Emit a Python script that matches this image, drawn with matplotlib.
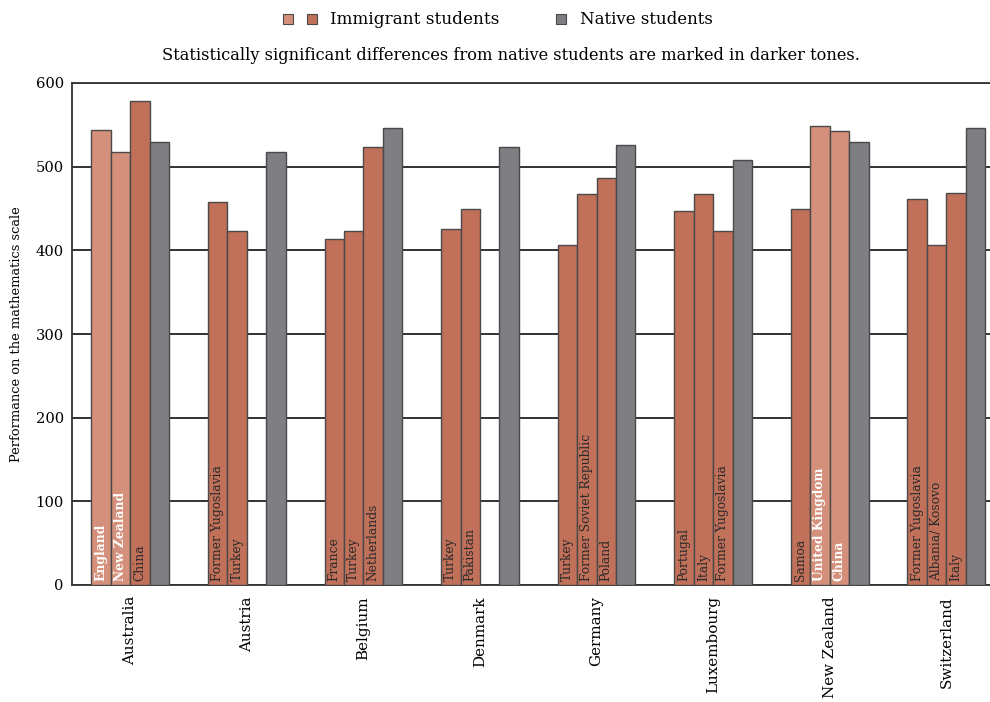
import numpy as np
import matplotlib
matplotlib.use("Agg")
import matplotlib.pyplot as plt
from matplotlib.patches import Rectangle

plt.rcParams['font.family'] = ['DejaVu Serif']

# Data
countries = ["Australia", "Austria", "Belgium", "Denmark", "Germany",
             "Luxembourg", "New Zealand", "Switzerland"]
origin_labels = [
    ["England", "New Zealand", "China"],
    ["Former Yugoslavia", "Turkey"],
    ["France", "Turkey", "Netherlands"],
    ["Turkey", "Pakistan"],
    ["Turkey", "Former Soviet Republic", "Poland"],
    ["Portugal", "Italy", "Former Yugoslavia"],
    ["Samoa", "United Kingdom", "China"],
    ["Former Yugoslavia", "Albania/ Kosovo", "Italy"],
]
immigrant_scores = [
    [544, 517, 579],
    [458, 423],
    [414, 423, 523],
    [426, 450],
    [406, 467, 487],
    [447, 467, 423],
    [449, 549, 543],
    [461, 406, 469],
]
significant = [
    [False, False, True],
    [True, True],
    [True, True, True],
    [True, True],
    [True, True, True],
    [True, True, True],
    [True, False, False],
    [True, True, True],
]
native_scores = [529, 518, 546, 523, 526, 508, 529, 546]

light_col = "#D4907B"
dark_col = "#C1705A"
native_col = "#7E7E83"
edge_col = "#4a4a4a"

fig = plt.figure(figsize=(9.9, 7.02), dpi=100)
ax = fig.add_axes([72 / 990, 1 - 585 / 702, 1 - 72 / 990, (585 - 83) / 702])

bar_w = 1.0
period = 6.0
for g, country in enumerate(countries):
    start = 1 + period * g
    for i, (val, lab, sig) in enumerate(zip(immigrant_scores[g], origin_labels[g], significant[g])):
        x = start + i * bar_w + bar_w / 2
        ax.bar(x, val, width=bar_w, color=dark_col if sig else light_col,
               edgecolor=edge_col, linewidth=1.0, zorder=3)
        ax.text(x, 5, lab, rotation=90, ha='center', va='bottom', fontsize=8.8,
                color="#2a2a2a" if sig else "white",
                fontweight='normal' if sig else 'bold', zorder=4)
    xn = start + 3 * bar_w + bar_w / 2
    ax.bar(xn, native_scores[g], width=bar_w, color=native_col,
           edgecolor=edge_col, linewidth=1.0, zorder=3)

centers = [1 + period * g + 2 for g in range(len(countries))]
ax.set_xticks(centers)
ax.set_xticklabels(countries, rotation=90, fontsize=10.9, va='top')
ax.tick_params(axis='x', length=0, pad=8)

ax.set_ylim(0, 600)
ax.set_xlim(0, 47.25)
ax.set_yticks(np.arange(0, 601, 100))
ax.tick_params(axis='y', length=0, pad=6, labelsize=10.6)
ax.yaxis.grid(True, color="#222222", linewidth=1.3, zorder=0)
ax.set_axisbelow(True)
for s in ['left', 'top', 'bottom']:
    ax.spines[s].set_color("#333333")
    ax.spines[s].set_linewidth(1.3)
ax.spines['right'].set_visible(False)
ax.set_ylabel("Performance on the mathematics scale", fontsize=9.4, labelpad=9)

# Legend drawn at top
fig.patches.append(Rectangle((283 / 990, 1 - 24 / 702), 10 / 990, 10 / 702,
                             transform=fig.transFigure, facecolor=light_col,
                             edgecolor=edge_col, linewidth=0.8))
fig.patches.append(Rectangle((307 / 990, 1 - 24 / 702), 10 / 990, 10 / 702,
                             transform=fig.transFigure, facecolor=dark_col,
                             edgecolor=edge_col, linewidth=0.8))
fig.text(330 / 990, 1 - 19 / 702, "Immigrant students", fontsize=12.2, va='center')
fig.patches.append(Rectangle((556 / 990, 1 - 24 / 702), 10 / 990, 10 / 702,
                             transform=fig.transFigure, facecolor=native_col,
                             edgecolor=edge_col, linewidth=0.8))
fig.text(580 / 990, 1 - 19 / 702, "Native students", fontsize=12.0, va='center')
fig.text(511 / 990, 1 - 55 / 702,
         "Statistically significant differences from native students are marked in darker tones.",
         fontsize=11.7, ha='center', va='center')

fig.savefig("out.png", dpi=100)
